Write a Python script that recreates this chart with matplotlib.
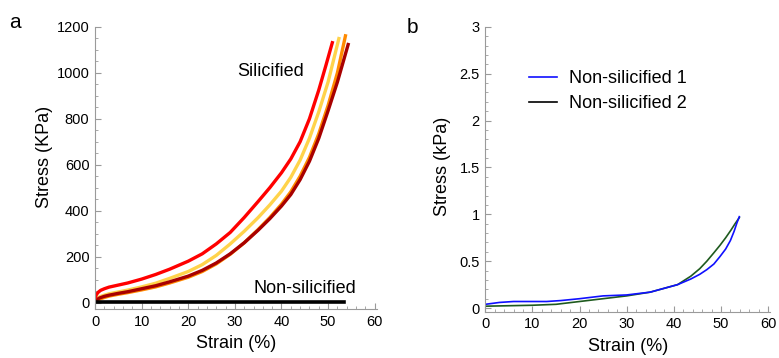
import matplotlib
matplotlib.use("Agg")
import matplotlib.pyplot as plt
from matplotlib.lines import Line2D
from matplotlib.ticker import MultipleLocator

plt.rcParams["font.family"] = ["Liberation Sans", "DejaVu Sans"]

# --- panel a: silicified samples (stress in KPa) ---
red_x = [0, 0.3, 0.7, 1.2, 2, 3, 5, 7, 10, 13, 16, 20, 23, 26, 29, 32, 35, 37.5,
         40, 42, 44, 46, 48, 49.5, 51]
red_y = [18, 35, 45, 53, 60, 67, 76, 85, 102, 122, 145, 180, 212, 255, 305, 370, 440, 500,
         565, 625, 700, 800, 925, 1030, 1138]

yel_x = [0, 0.5, 1, 2, 3, 5, 7, 10, 13, 16, 20, 23, 26, 29, 32, 35, 37.5, 40, 42, 44,
         46, 48, 50, 52.4]
yel_y = [8, 18, 25, 32, 38, 46, 54, 68, 84, 105, 135, 165, 205, 255, 310, 370, 425, 485, 545, 620,
         715, 830, 960, 1156]

org_x = [0, 0.5, 1, 2, 3, 5, 7, 10, 13, 16, 20, 23, 26, 29, 32, 35, 37.5, 40, 42, 44,
         46, 48, 50, 52, 53.8]
org_y = [3, 10, 15, 22, 28, 36, 43, 55, 68, 85, 110, 135, 168, 210, 260, 318, 370, 428, 482, 550,
         632, 735, 858, 1000, 1168]

drk_x = [0, 0.5, 1, 2, 3, 5, 7, 10, 13, 16, 20, 23, 26, 29, 32, 35, 37.5, 40, 42, 44,
         46, 48, 50, 52, 54.4]
drk_y = [5, 14, 20, 27, 32, 40, 47, 60, 73, 90, 115, 140, 172, 212, 260, 315, 365, 420, 470, 535,
         615, 715, 835, 960, 1130]

non_x = [0.5, 53.5]
non_y = [3, 3]

# --- panel b: non-silicified samples (stress in kPa) ---
b1_x = [0, 3, 6, 10, 13, 16, 20, 25, 30, 35, 40.8, 43.6, 45.5, 47, 48.5, 49.8, 51, 52, 52.8, 53.4, 53.9]
b1_y = [0.04, 0.06, 0.07, 0.07, 0.07, 0.08, 0.10, 0.13, 0.14, 0.17, 0.25, 0.31, 0.36, 0.41, 0.47, 0.55, 0.63, 0.72, 0.82, 0.91, 0.975]

b2_x = [0, 5, 10, 15, 20, 25, 30, 35, 40.8, 43.6, 45.5, 47, 48.5, 49.8, 51, 52.1, 53, 53.9]
b2_y = [0.02, 0.025, 0.03, 0.04, 0.07, 0.10, 0.13, 0.17, 0.25, 0.34, 0.42, 0.50, 0.59, 0.67, 0.75, 0.83, 0.90, 0.965]

fig = plt.figure(figsize=(7.79, 3.58), dpi=100)
ax_a = fig.add_axes([0.122, 0.137, 0.362, 0.788])
ax_b = fig.add_axes([0.623, 0.129, 0.366, 0.796])

axis_gray = "#9a9a9a"
for ax in (ax_a, ax_b):
    for s in ("top", "right"):
        ax.spines[s].set_visible(False)
    for s in ("left", "bottom"):
        ax.spines[s].set_color(axis_gray)
        ax.spines[s].set_linewidth(0.8)
    ax.tick_params(which="both", direction="in", color=axis_gray, labelsize=10.5, pad=4)
    ax.tick_params(which="major", length=4)
    ax.tick_params(which="minor", length=2)
    ax.set_xlim(0, 60.5)
    ax.xaxis.set_major_locator(MultipleLocator(10))
    ax.xaxis.set_minor_locator(MultipleLocator(2))
    ax.set_xlabel("Strain (%)", fontsize=13, labelpad=5)

# panel a
ax_a.plot(org_x, org_y, color="#ff8a00", lw=2.4, solid_capstyle="butt")
ax_a.plot(yel_x, yel_y, color="#ffd34a", lw=2.4, solid_capstyle="butt")
ax_a.plot(drk_x, drk_y, color="#a80000", lw=2.4, solid_capstyle="butt")
ax_a.plot(red_x, red_y, color="#ff0000", lw=2.4, solid_capstyle="butt")
ax_a.plot(non_x, non_y, color="black", lw=2.6)
ax_a.set_ylim(-28, 1200)
ax_a.yaxis.set_major_locator(MultipleLocator(200))
ax_a.yaxis.set_minor_locator(MultipleLocator(50))
ax_a.set_ylabel("Stress (KPa)", fontsize=13)
ax_a.yaxis.set_label_coords(-0.15, 0.54)
ax_a.text(30.5, 1005, "Silicified", fontsize=13, va="center", ha="left")
ax_a.text(34, 62, "Non-silicified", fontsize=13, va="center", ha="left")

# panel b
ax_b.plot(b2_x, b2_y, color="#1e5a1e", lw=1.2)
ax_b.plot(b1_x, b1_y, color="#1010ff", lw=1.2)
ax_b.set_ylim(-0.04, 3.0)
ax_b.yaxis.set_major_locator(MultipleLocator(0.5))
ax_b.yaxis.set_minor_locator(MultipleLocator(0.1))
ax_b.yaxis.set_major_formatter(plt.FuncFormatter(lambda v, p: f"{v:g}"))
ax_b.set_ylabel("Stress (kPa)", fontsize=13)
ax_b.yaxis.set_label_coords(-0.122, 0.51)
handles = [Line2D([], [], color="#1010ff", lw=1.2), Line2D([], [], color="black", lw=1.2)]
ax_b.legend(handles, ["Non-silicified 1", "Non-silicified 2"], loc="upper left",
            bbox_to_anchor=(0.095, 0.905), frameon=False, fontsize=13,
            handlelength=1.55, handletextpad=0.7, labelspacing=0.45)

fig.text(0.012, 0.922, "a", fontsize=15)
fig.text(0.522, 0.908, "b", fontsize=15)

fig.savefig("out.png", dpi=100)
